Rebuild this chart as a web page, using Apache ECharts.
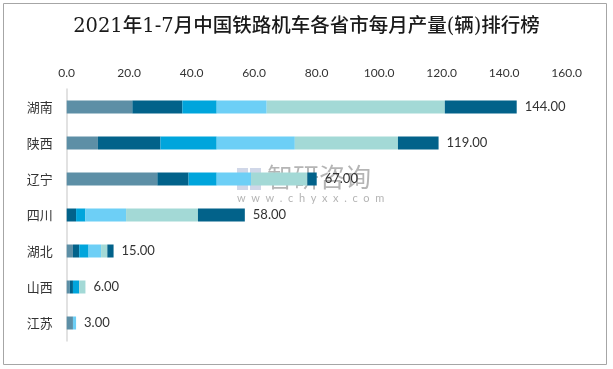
<!DOCTYPE html>
<html><head><meta charset="utf-8">
<script src="https://cdn.jsdelivr.net/npm/echarts@6/dist/echarts.min.js"></script>
<style>html,body{margin:0;padding:0;background:#fff}#c{width:613px;height:369px}</style>
</head><body><div id="c"></div>
<script>
const provinces = ['湖南','陕西','辽宁','四川','湖北','山西','江苏'];
const months = ['1-2月','3月','4月','5月','6月','7月'];
const m12 = [21, 10, 29, 0, 2, 1, 2];
const m3  = [16, 20, 10, 3, 2, 1, 0];
const m4  = [11, 18, 9, 3, 3, 2, 0];
const m5  = [16, 25, 11, 13, 4, 0, 1];
const m6  = [57, 33, 18, 23, 2, 2, 0];
const m7  = [23, 13, 3, 15, 2, 0, 0];
const totals = [144, 119, 67, 58, 15, 6, 3];
const xTicks = {min: 0, max: 160, interval: 20};
const colors = ['#5d8fa6','#02628a','#00a5dc','#6dcff6','#a3d9d6','#02628a'];
const monthData = [m12, m3, m4, m5, m6, m7];

const chart = echarts.init(document.getElementById('c'));
const series = monthData.map((d, i) => ({
  name: months[i], type: 'bar', stack: 'total', barWidth: 13,
  itemStyle: {color: colors[i]}, data: d
}));
series.push({
  name: '合计', type: 'bar', stack: 'total', barWidth: 13,
  itemStyle: {color: 'rgba(0,0,0,0)'},
  data: totals.map(() => 0),
  label: {show: true, position: 'right', distance: 8, color: '#333', fontSize: 13,
    fontFamily: 'Lato, "Noto Sans CJK SC", sans-serif',
    formatter: p => totals[p.dataIndex].toFixed(2)}
});
chart.setOption({
  animation: false,
  color: colors,
  title: {text: '2021年1-7月中国铁路机车各省市每月产量(辆)排行榜', left: 'center', top: 12,
    textStyle: {fontSize: 19.5, fontWeight: 500, color: '#1a1a1a', fontFamily: '"DejaVu Serif", "Noto Sans CJK SC", serif'}},
  grid: {left: 66.7, right: 46.3, top: 89, bottom: 28},
  xAxis: {type: 'value', position: 'top', min: xTicks.min, max: xTicks.max, interval: xTicks.interval,
    axisLine: {show: false}, axisTick: {show: false}, splitLine: {show: false},
    axisLabel: {color: '#333', fontSize: 12, margin: 10, fontFamily: 'Lato, sans-serif', formatter: v => v.toFixed(1)}},
  yAxis: {type: 'category', inverse: true, data: provinces,
    axisLine: {show: true, lineStyle: {color: '#d9d9d9', width: 1.5}}, axisTick: {show: false},
    axisLabel: {color: '#333', fontSize: 13, margin: 14, fontFamily: '"Noto Sans CJK SC", sans-serif'}},
  graphic: [
    {type: 'rect', shape: {x: 3.5, y: 3.5, width: 603, height: 361}, style: {fill: 'none', stroke: '#a6a6a6', lineWidth: 1}, z: 100},
    {type: 'group', left: 237, top: 164, z: 50, silent: true, children: [
      {type: 'rect', shape: {x: 0, y: 4, width: 11, height: 22}, style: {fill: 'rgba(120,140,190,0.35)'}},
      {type: 'rect', shape: {x: 13, y: 4, width: 11, height: 22}, style: {fill: 'rgba(120,140,190,0.35)'}},
      {type: 'text', style: {x: 30, y: 0, text: '智研咨询', fill: 'rgba(120,120,120,0.55)', fontSize: 26, fontFamily: '"Noto Sans CJK SC", sans-serif'}},
      {type: 'text', style: {x: 0, y: 29, text: 'w  w  w  .  c  h  y  x  x  .  c  o  m', fill: 'rgba(130,130,130,0.6)', fontSize: 11, fontFamily: 'Lato, sans-serif'}}
    ]}
  ],
  series: series
});
</script></body></html>
